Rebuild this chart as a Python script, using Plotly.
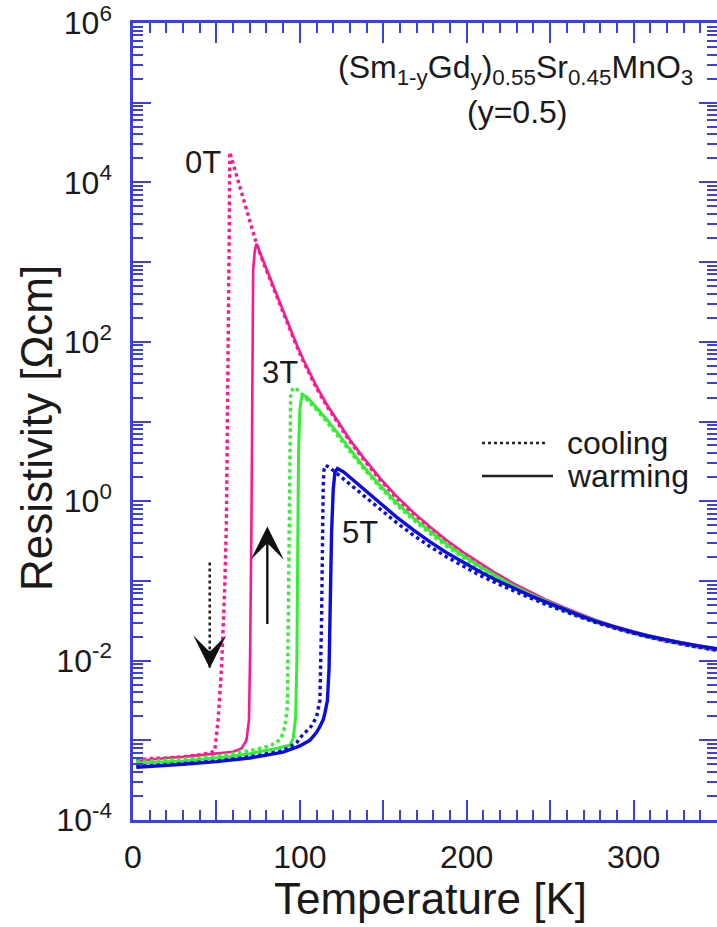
import math
import plotly.graph_objects as go

# ---------------- data ----------------
# 0 T
T_0T_cool = [2, 10, 20, 30, 40, 46, 49, 51, 53, 55, 56, 57, 57.6, 58, 62, 66, 70, 74,
             78, 82, 86, 90, 94, 98, 102, 106, 110, 116, 122, 130, 138, 148, 158, 168,
             178, 188, 198, 208, 218, 228, 238, 248, 258, 268, 278, 288, 298, 308, 318,
             328, 338, 350]
rho_0T_cool = [5.6e-4, 5.9e-4, 6.0e-4, 6.2e-4, 6.6e-4, 6.9e-4, 7.4e-4, 1.8e-3, 7.6e-3,
               0.085, 0.575, 32.4, 1580, 24000, 12300, 6300, 3300, 1700,
               1000, 615, 378, 228, 141, 88.7, 57.3, 37.8, 26.1, 15.8, 10.0, 5.6, 3.37,
               1.85, 1.09, 0.688, 0.455, 0.308, 0.218, 0.158, 0.117, 0.0886, 0.0688,
               0.0546, 0.0445, 0.0366, 0.0304, 0.0258, 0.0224, 0.0199, 0.0177, 0.0162,
               0.0147, 0.0134]

T_0T_warm = [2, 10, 20, 30, 40, 50, 60, 65, 68, 69.5, 70.2, 71, 71.5, 72, 73, 74,
             78, 82, 86, 90, 94, 98, 102, 106, 110, 116, 122, 130, 138, 148, 158, 168,
             178, 188, 198, 208, 218, 228, 238, 248, 258, 268, 278, 288, 298, 308, 318,
             328, 338, 350]
rho_0T_warm = [5.5e-4, 5.75e-4, 6.0e-4, 6.2e-4, 6.5e-4, 6.8e-4, 7.2e-4, 7.9e-4, 1.0e-3,
               1.8e-3, 1.26e-2, 0.575, 31.6, 794, 1410, 1700,
               1050, 646, 398, 240, 148, 93.3, 60.3, 39.8, 27.5, 16.6, 10.5, 5.89, 3.55,
               1.95, 1.15, 0.724, 0.479, 0.324, 0.229, 0.166, 0.123, 0.0933, 0.0724,
               0.0575, 0.0468, 0.0385, 0.032, 0.0272, 0.0236, 0.0209, 0.0186, 0.017,
               0.0155, 0.0141]

# 3 T
T_3T_cool = [2, 10, 20, 30, 40, 50, 60, 70, 80, 86, 89, 91, 92.5, 93.1, 93.5, 94, 94.5,
             95.5, 97, 100, 104, 106, 110, 116, 122, 130, 138, 148, 158, 168, 178, 188,
             198, 208, 218, 228, 238, 248, 258, 268, 278, 288, 298, 308, 318, 328, 338, 350]
rho_3T_cool = [5.4e-4, 5.5e-4, 5.6e-4, 5.75e-4, 6.0e-4, 6.3e-4, 6.8e-4, 7.4e-4, 8.3e-4,
               9.3e-4, 1.1e-3, 1.48e-3, 2.63e-3, 0.0316, 1.0, 10, 22.4,
               25.1, 26.9, 23.4, 19.1, 17.4, 14.1, 10.0, 7.0, 4.22, 2.6, 1.5, 0.902, 0.582,
               0.394, 0.272, 0.195, 0.143, 0.108, 0.0832, 0.0653, 0.0525, 0.0432, 0.0355,
               0.0302, 0.0258, 0.0225, 0.02, 0.018, 0.0164, 0.0151, 0.0138]

T_3T_warm = [2, 10, 20, 30, 40, 50, 60, 70, 80, 86, 90, 94, 96, 97.5, 98.2, 98.6, 99.2,
             100, 101, 102, 104, 106, 110, 116, 122, 130, 138, 148, 158, 168, 178, 188,
             198, 208, 218, 228, 238, 248, 258, 268, 278, 288, 298, 308, 318, 328, 338, 350]
rho_3T_warm = [5.1e-4, 5.25e-4, 5.4e-4, 5.5e-4, 5.75e-4, 6.0e-4, 6.3e-4, 6.8e-4, 7.4e-4,
               7.9e-4, 8.3e-4, 8.7e-4, 1.05e-3, 2.0e-3, 0.01, 0.316, 3.98,
               14.1, 20, 21.4, 20.4, 18.6, 15.1, 10.7, 7.41, 4.47, 2.75, 1.58, 0.955, 0.617,
               0.417, 0.288, 0.207, 0.151, 0.114, 0.0871, 0.0684, 0.055, 0.0452, 0.0372,
               0.0313, 0.0267, 0.0233, 0.0207, 0.0185, 0.0169, 0.0154, 0.0141]

# 5 T
T_5T_cool = [2, 10, 30, 50, 70, 90, 98, 102, 106, 110, 112, 113, 113.5, 114, 114.5, 115.5,
             118, 122, 126, 130, 138, 148, 158, 168, 178, 188, 198, 208, 218, 228, 238,
             248, 258, 268, 278, 288, 298, 308, 318, 328, 338, 350]
rho_5T_cool = [4.7e-4, 4.8e-4, 5.1e-4, 5.5e-4, 6.2e-4, 7.4e-4, 9.3e-4, 1.2e-3, 1.41e-3,
               1.95e-3, 3.16e-3, 0.0316, 0.316, 1.58, 2.51, 2.82,
               2.63, 2.24, 1.91, 1.62, 1.17, 0.794, 0.537, 0.376, 0.269, 0.2, 0.151, 0.117,
               0.0933, 0.075, 0.061, 0.0501, 0.0417, 0.0351, 0.0297, 0.0257, 0.0225, 0.02,
               0.0179, 0.0162, 0.0148, 0.0135]

T_5T_warm = [2, 10, 30, 50, 70, 90, 100, 106, 110, 112, 114, 115, 116.5, 117.5, 118.3, 119,
             120, 121, 122.5, 126, 130, 138, 148, 158, 168, 178, 188, 198, 208, 218, 228,
             238, 248, 258, 268, 278, 288, 298, 308, 318, 328, 338, 350]
rho_5T_warm = [4.6e-4, 4.7e-4, 5.0e-4, 5.4e-4, 6.0e-4, 7.1e-4, 8.5e-4, 1.0e-3, 1.26e-3,
               1.48e-3, 1.82e-3, 2.19e-3, 3.16e-3, 7.9e-3, 0.063, 0.398,
               1.41, 2.29, 2.57, 2.34, 2.0, 1.45, 0.955, 0.631, 0.437, 0.309, 0.226, 0.17,
               0.13, 0.102, 0.0813, 0.0653, 0.0537, 0.0442, 0.0367, 0.0309, 0.0266, 0.0232,
               0.0205, 0.0184, 0.0168, 0.0154, 0.0141]

# axis ticks
x_labeled = [0, 100, 200, 300]
x_labels = ["0", "100", "200", "300"]
x_unlabeled = [50, 150, 250, 350]
y_labeled_exp = [-4, -2, 0, 2, 4, 6]
y_labels = ["10<sup>-4</sup>", "10<sup>-2</sup>", "10<sup>0</sup>",
            "10<sup>2</sup>", "10<sup>4</sup>", "10<sup>6</sup>"]
y_unlabeled_exp = [-3, -1, 1, 3, 5]
y_minor_digits = [2, 3, 4, 5, 6, 7, 8, 9]

# arrows (T, tail rho, tip rho)
arrow_cool = (46, 0.17, 0.0080)
arrow_warm = (80.5, 0.0275, 0.48)

# ---------------- style ----------------
W, H = 717, 927
ML, MR, MT, MB = 133, 0, 23, 107
PW, PH = W - ML - MR, H - MT - MB
PINK = "#ff1690"
GREEN = "#30f030"
BLUE = "#0c0ce0"
AXIS = "#3e3ee6"
TXT = "#1a1a1a"
FONT = "Liberation Sans, Arial, Helvetica, sans-serif"


def px(xp):
    return (xp - ML) / PW


def py(yp):
    return (H - MB - yp) / PH


fig = go.Figure()


def add(T, rho, color, dotted, width):
    fig.add_trace(go.Scatter(
        x=T, y=rho, mode="lines", showlegend=False, hoverinfo="skip",
        line=dict(color=color, width=width, dash="dot" if dotted else "solid")))


add(T_0T_warm, rho_0T_warm, PINK, False, 2.6)
add(T_0T_cool, rho_0T_cool, PINK, True, 3.4)
add(T_3T_warm, rho_3T_warm, GREEN, False, 3)
add(T_3T_cool, rho_3T_cool, GREEN, True, 3.4)
add(T_5T_warm, rho_5T_warm, BLUE, False, 3.4)
add(T_5T_cool, rho_5T_cool, BLUE, True, 3.4)

# dotted arrow shaft (cooling)
fig.add_trace(go.Scatter(
    x=[arrow_cool[0], arrow_cool[0]], y=[arrow_cool[1], arrow_cool[2]],
    mode="lines", showlegend=False, hoverinfo="skip",
    line=dict(color="#222222", width=2.6, dash="dot")))

# empty trace that activates the overlay axes carrying the unlabeled major ticks
fig.add_trace(go.Scatter(x=[None], y=[None], xaxis="x2", yaxis="y2",
                         showlegend=False, hoverinfo="skip"))

y_minor = [d * 10.0 ** e for e in range(-4, 6) for d in y_minor_digits]

common = dict(showline=True, linecolor=AXIS, linewidth=2.5, mirror="allticks",
              ticks="inside", tickwidth=2, tickcolor=AXIS, showgrid=False,
              zeroline=False, tickfont=dict(family=FONT, size=32, color=TXT))

fig.update_layout(
    xaxis=dict(range=[0, 350], ticklen=20, tickmode="array", tickvals=x_labeled,
               ticktext=x_labels, ticklabelstandoff=7,
               minor=dict(ticks="inside", ticklen=10, tickwidth=2, tickcolor=AXIS,
                          dtick=10, tick0=0), **common),
    xaxis2=dict(range=[0, 350], overlaying="x", anchor="y2", side="bottom", ticklen=20,
                tickmode="array", tickvals=x_unlabeled, showticklabels=False, **common),
    yaxis=dict(type="log", range=[-4, 6], ticklen=18, tickmode="array",
               tickvals=[10.0 ** e for e in y_labeled_exp], ticktext=y_labels,
               ticklabelstandoff=12,
               minor=dict(ticks="inside", ticklen=10, tickwidth=2, tickcolor=AXIS,
                          tickmode="array", tickvals=y_minor), **common),
    yaxis2=dict(type="log", range=[-4, 6], overlaying="y", anchor="x2", side="left",
                ticklen=18, tickmode="array",
                tickvals=[10.0 ** e for e in y_unlabeled_exp], showticklabels=False,
                **common),
)

ann = []


def text(x, y, s, size=32, anchor="center", angle=0):
    ann.append(dict(x=px(x), y=py(y), xref="paper", yref="paper", text=s, showarrow=False,
                    xanchor=anchor, yanchor="middle", textangle=angle,
                    font=dict(family=FONT, size=size, color=TXT)))


text(515, 70, "(Sm<sub>1-y</sub>Gd<sub>y</sub>)<sub>0.55</sub>Sr<sub>0.45</sub>MnO<sub>3</sub>", 32)
text(517, 112, "(y=0.5)", 32)
text(203, 162, "0T", 31)
text(280, 372, "3T", 31)
text(360, 532, "5T", 31)
text(565, 443, "cooling", 32, "left")
text(565, 476, "warming", 32, "left")
text(430, 898, "Temperature [K]", 44)
text(36, 428, "Resistivity [Ωcm]", 44, angle=-90)

# solid arrow (warming)
ann.append(dict(x=arrow_warm[0], y=math.log10(arrow_warm[2]), xref="x", yref="y",
                ax=arrow_warm[0], ay=math.log10(arrow_warm[1]), axref="x", ayref="y",
                text="", showarrow=True, arrowhead=3, arrowsize=2.3, arrowwidth=2.4,
                arrowcolor="#111111"))
# head of the dotted arrow
ann.append(dict(x=arrow_cool[0], y=math.log10(arrow_cool[2]), xref="x", yref="y",
                ax=0, ay=-14, text="", showarrow=True, arrowhead=3, arrowsize=2.3,
                arrowwidth=2.4, arrowcolor="#111111"))

shapes = [
    dict(type="line", xref="paper", yref="paper", x0=px(482), x1=px(547), y0=py(443), y1=py(443),
         line=dict(color="#222222", width=2.6, dash="dot")),
    dict(type="line", xref="paper", yref="paper", x0=px(482), x1=px(553), y0=py(476), y1=py(476),
         line=dict(color="#222222", width=2.5)),
]

fig.update_layout(
    width=W, height=H, margin=dict(l=ML, r=MR, t=MT, b=MB, autoexpand=False),
    paper_bgcolor="white", plot_bgcolor="white", showlegend=False,
    annotations=ann, shapes=shapes)

fig.write_html("out.html")
